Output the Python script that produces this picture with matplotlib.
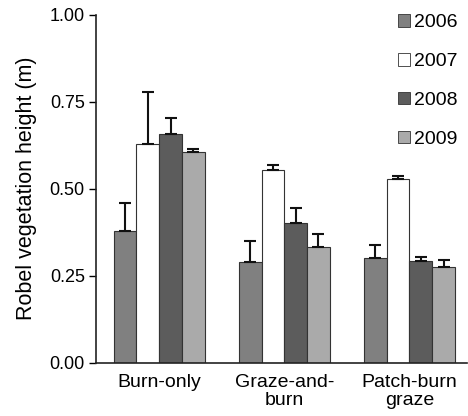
import matplotlib
matplotlib.use("Agg")
import matplotlib.pyplot as plt
import numpy as np

plt.rcParams['font.family'] = ['Liberation Sans', 'DejaVu Sans']

categories = ["Burn-only", "Graze-and-\nburn", "Patch-burn\ngraze"]
years = ["2006", "2007", "2008", "2009"]
means = {
    "2006": [0.378, 0.289, 0.300],
    "2007": [0.628, 0.554, 0.527],
    "2008": [0.656, 0.401, 0.292],
    "2009": [0.605, 0.332, 0.276],
}
errors = {
    "2006": [0.082, 0.062, 0.038],
    "2007": [0.149, 0.013, 0.010],
    "2008": [0.046, 0.043, 0.013],
    "2009": [0.009, 0.037, 0.019],
}
colors = {"2006": "#808080", "2007": "#ffffff", "2008": "#5c5c5c", "2009": "#aaaaaa"}

fig = plt.figure(figsize=(4.68, 4.16), dpi=100)
ax = fig.add_axes([0.205, 0.128, 0.793, 0.837])

x = np.arange(len(categories))
w = 0.182
for i, yr in enumerate(years):
    pos = x + (i - 1.5) * w
    ax.bar(pos, means[yr], width=w, color=colors[yr], edgecolor="#333333",
           linewidth=0.8, label=yr, zorder=2)
    ax.errorbar(pos, means[yr], yerr=[np.zeros(3), errors[yr]], fmt="none",
                ecolor="#111111", elinewidth=1.5, capsize=4, capthick=1.5, zorder=3)

ax.set_xlim(-0.505, 2.46)
ax.set_ylim(0, 1.0)
ax.set_yticks([0, 0.25, 0.5, 0.75, 1.0])
ax.set_yticklabels(["0.00", "0.25", "0.50", "0.75", "1.00"])
ax.set_xticks(x)
ax.set_xticklabels(categories, fontsize=14, linespacing=1.1)
ax.tick_params(axis="x", length=0, pad=8)
ax.tick_params(axis="y", direction="out", length=5, width=1, labelsize=13, pad=3)
ax.set_ylabel("Robel vegetation height (m)", fontsize=15.5, labelpad=9)
for s in ["top", "right"]:
    ax.spines[s].set_visible(False)
for s in ["left", "bottom"]:
    ax.spines[s].set_linewidth(1.2)
    ax.spines[s].set_color("#222222")

leg = ax.legend(loc="upper right", bbox_to_anchor=(1.007, 1.035), frameon=False,
                fontsize=14, handlelength=0.62, handleheight=0.62,
                handletextpad=0.25, labelspacing=1.12, borderaxespad=0.2)
for h in leg.legend_handles:
    h.set_linewidth(0.6)

fig.savefig("out.png", dpi=100)
